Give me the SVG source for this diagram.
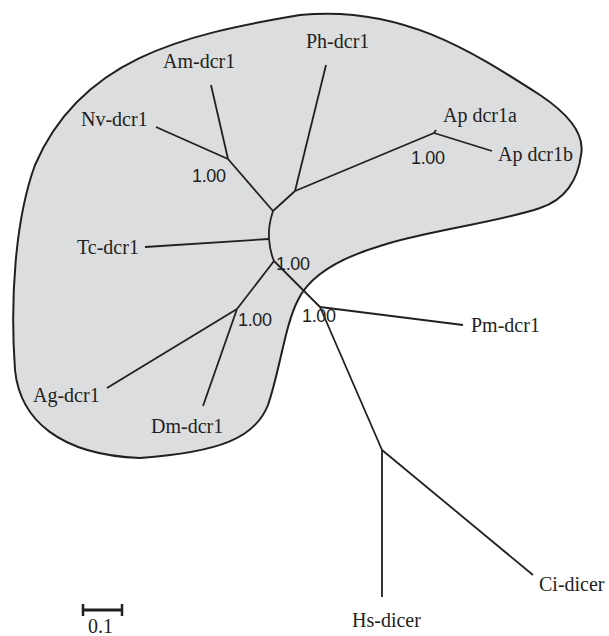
<svg xmlns="http://www.w3.org/2000/svg" width="609" height="636" viewBox="0 0 609 636">
<style>
.lbl{font-family:"Liberation Serif","Times New Roman",serif;font-size:20px;fill:#231f20}
.sup{font-family:"Liberation Sans",Arial,sans-serif;font-size:18px;fill:#231f20}
.br{stroke:#231f20;stroke-width:1.8;fill:none;stroke-linecap:butt;stroke-linejoin:miter}
</style>
<rect width="609" height="636" fill="#ffffff"/>
<g id="clade">
<path d="M300,15 C400,5 470,50 540,95 C570,115 585,135 581,155 C578,180 565,200 540,208 C500,222 420,232 380,246 C340,258 310,275 298,300 C285,325 280,370 268,405 C255,438 220,452 140,458 C60,455 20,420 15,370 C10,300 15,220 35,165 C80,60 180,35 300,15 Z" fill="#dcdddf" stroke="#231f20" stroke-width="2"/>
</g>
<g id="connectors" class="br">
<line x1="156" y1="127" x2="228" y2="159"/>
<line x1="211" y1="85" x2="228" y2="159"/>
<line x1="228" y1="159" x2="273" y2="211"/>
<line x1="326" y1="65" x2="295" y2="191"/>
<line x1="295" y1="191" x2="273" y2="211"/>
<line x1="295" y1="191" x2="434" y2="133"/>
<line x1="434" y1="133" x2="492" y2="151"/>
<line x1="434" y1="133" x2="436" y2="130"/>
<path d="M273,211 Q268,226 269,239"/>
<line x1="145" y1="247" x2="269" y2="239"/>
<path d="M269,239 Q270,252 274,261"/>
<line x1="274" y1="261" x2="237" y2="309"/>
<line x1="237" y1="309" x2="107" y2="388"/>
<line x1="237" y1="309" x2="203" y2="406"/>
<line x1="274" y1="261" x2="320" y2="307"/>
<line x1="320" y1="307" x2="463" y2="325"/>
<line x1="320" y1="307" x2="382" y2="450"/>
<line x1="382" y1="450" x2="382" y2="597"/>
<line x1="382" y1="450" x2="533" y2="575"/>
</g>
<g id="node-ph"><text class="lbl" x="306" y="48">Ph-dcr1</text></g>
<g id="node-am"><text class="lbl" x="163" y="68">Am-dcr1</text></g>
<g id="node-nv"><text class="lbl" x="81" y="126">Nv-dcr1</text></g>
<g id="node-apa"><text class="lbl" x="443" y="122">Ap dcr1a</text></g>
<g id="node-apb"><text class="lbl" x="498" y="161">Ap dcr1b</text></g>
<g id="node-tc"><text class="lbl" x="77" y="254">Tc-dcr1</text></g>
<g id="node-ag"><text class="lbl" x="33" y="402">Ag-dcr1</text></g>
<g id="node-dm"><text class="lbl" x="151" y="433">Dm-dcr1</text></g>
<g id="node-pm"><text class="lbl" x="471" y="332">Pm-dcr1</text></g>
<g id="node-ci"><text class="lbl" x="539" y="591">Ci-dicer</text></g>
<g id="node-hs"><text class="lbl" x="352" y="627">Hs-dicer</text></g>
<g id="support">
<text class="sup" x="192" y="182" textLength="34">1.00</text>
<text class="sup" x="411" y="164" textLength="34">1.00</text>
<text class="sup" x="276" y="270" textLength="34">1.00</text>
<text class="sup" x="238" y="326" textLength="34">1.00</text>
<text class="sup" x="302" y="322" textLength="34">1.00</text>
</g>
<g id="scale">
<line x1="83" y1="610" x2="122" y2="610" stroke="#231f20" stroke-width="3"/>
<line x1="83" y1="604" x2="83" y2="616" stroke="#231f20" stroke-width="2.5"/>
<line x1="122" y1="604" x2="122" y2="616" stroke="#231f20" stroke-width="2.5"/>
<text class="lbl" x="88" y="633">0.1</text>
</g>
</svg>
